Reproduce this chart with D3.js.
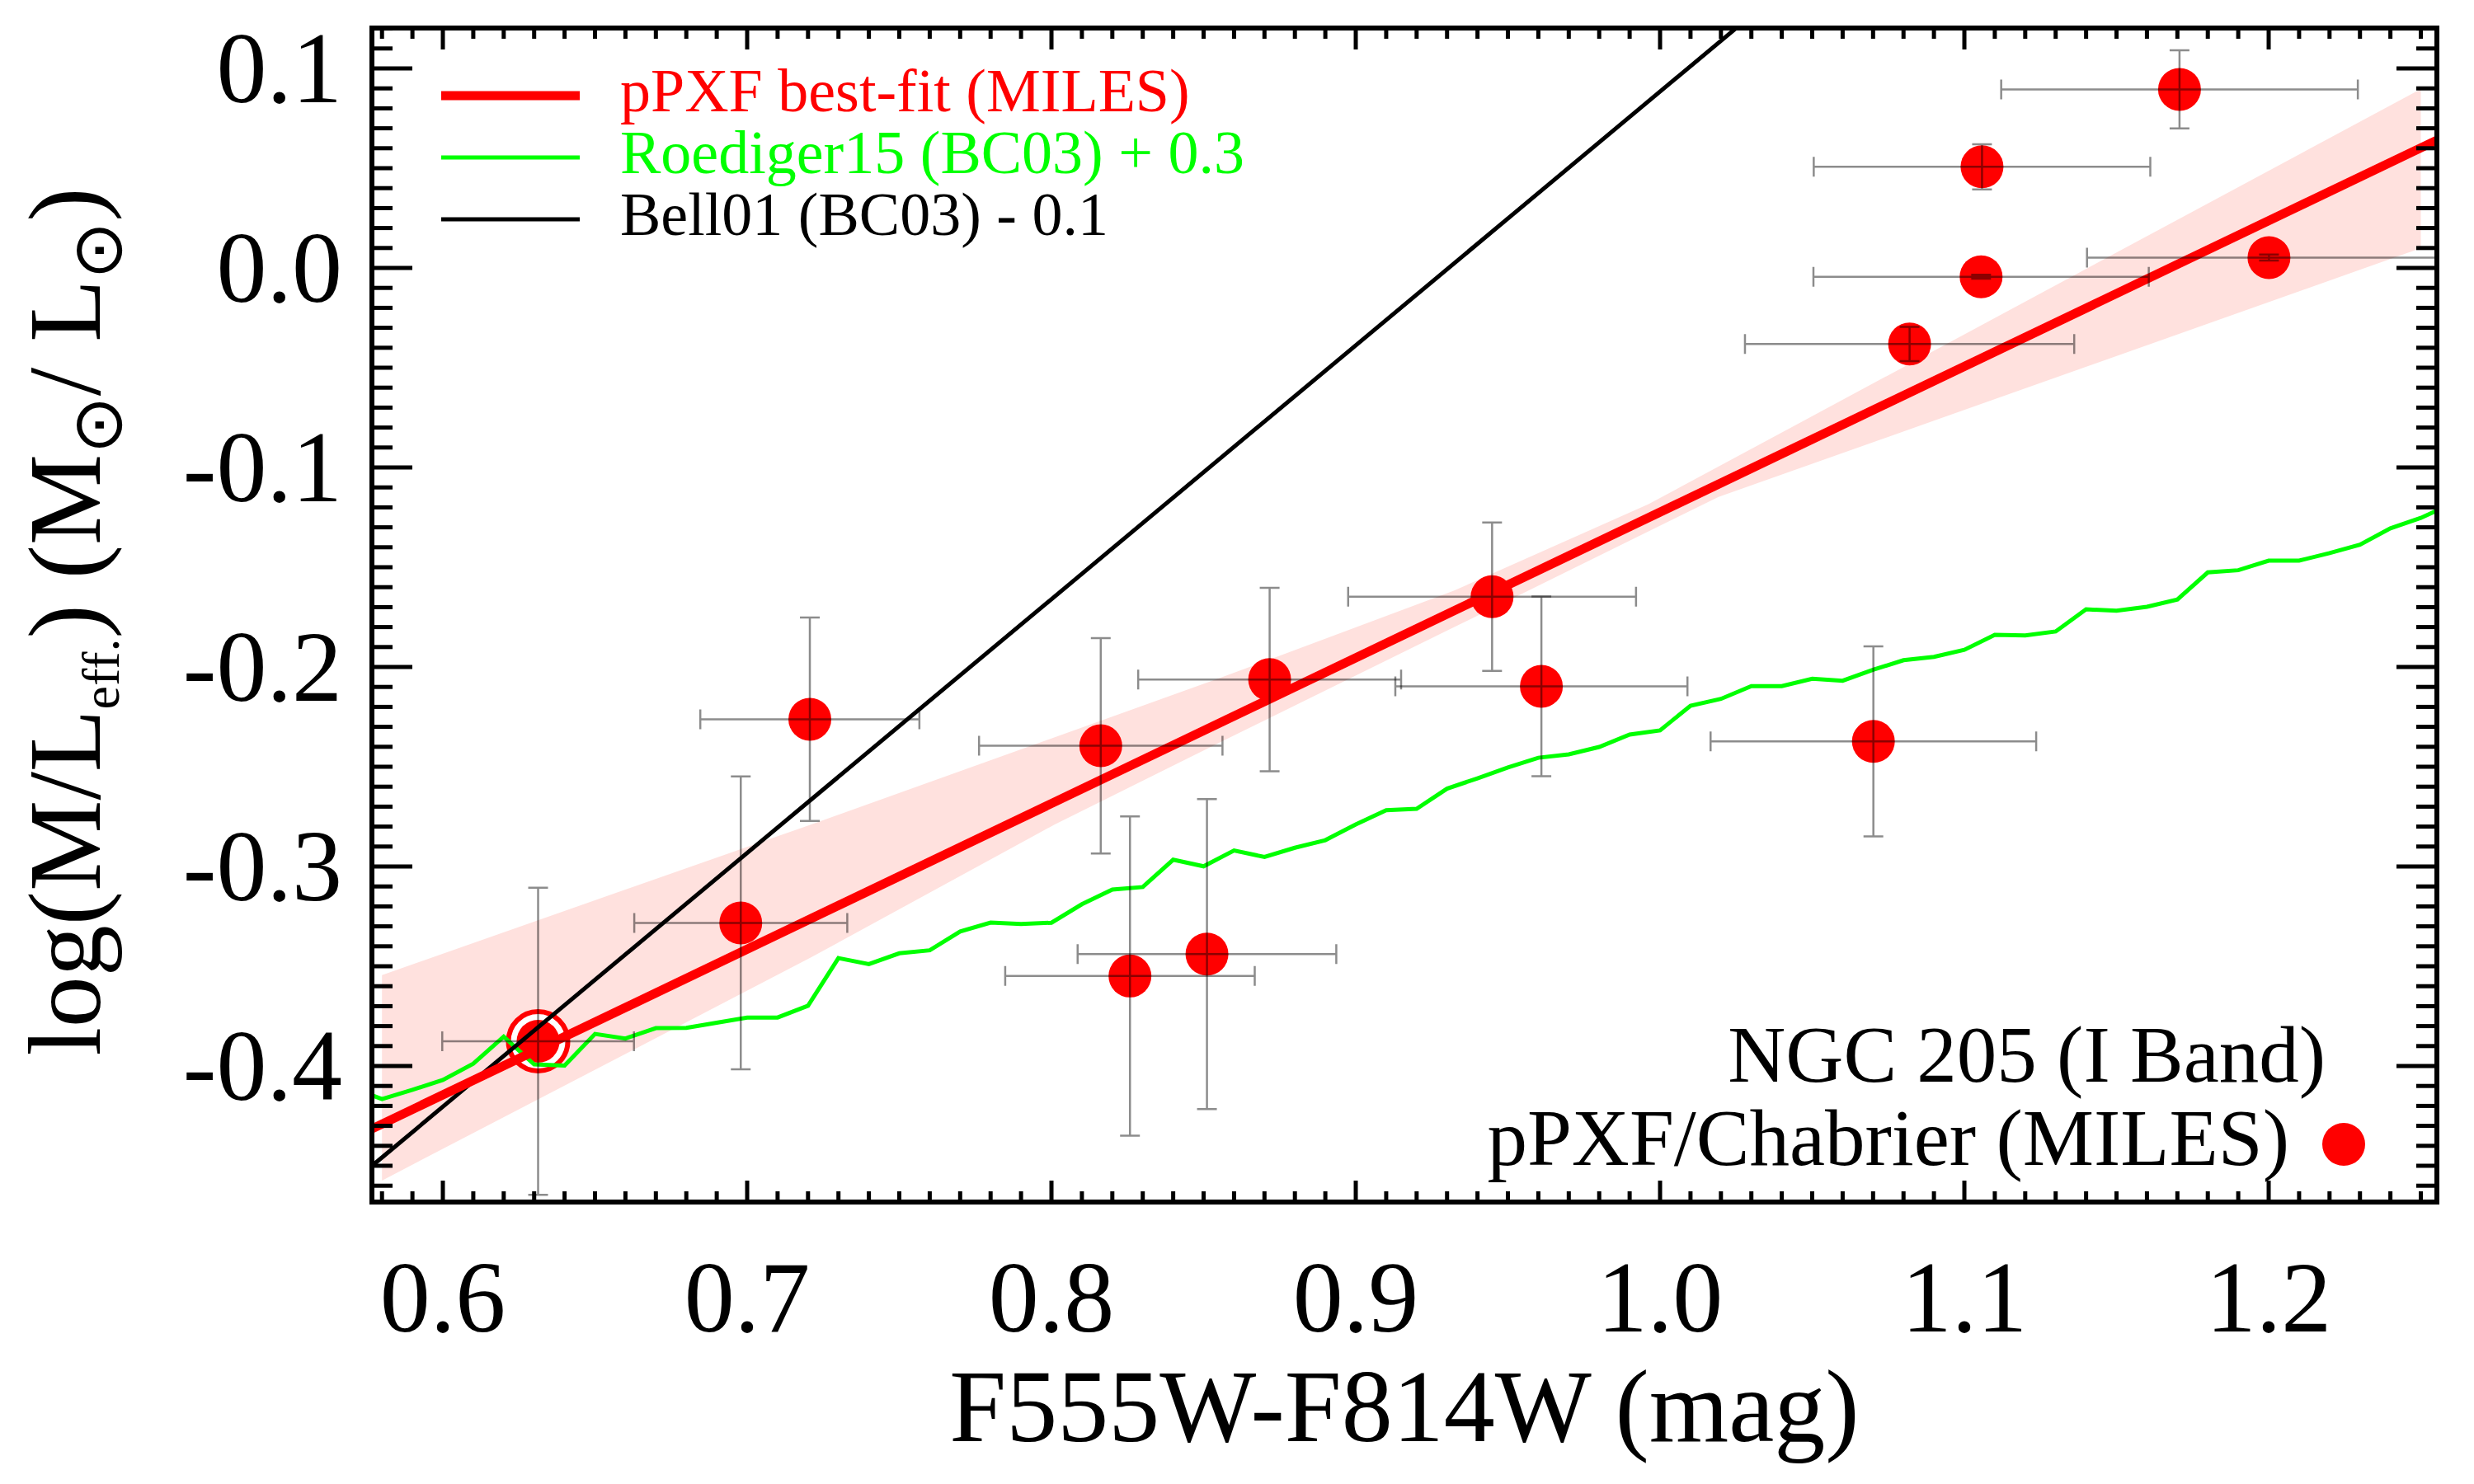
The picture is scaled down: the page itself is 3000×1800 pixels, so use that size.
<!DOCTYPE html>
<html>
<head>
<meta charset="utf-8">
<script src="https://cdn.jsdelivr.net/npm/d3@7"></script>
<style>
  body { margin: 0; background: #fff; }
  text { font-family: "Liberation Serif", "Times New Roman", serif; }
</style>
</head>
<body>
<svg id="chart" width="3000" height="1800"></svg>
<script>
// axis ticks
var xTicks = [0.6, 0.7, 0.8, 0.9, 1.0, 1.1, 1.2];
var xTickLabels = ["0.6", "0.7", "0.8", "0.9", "1.0", "1.1", "1.2"];
var yTicks = [-0.4, -0.3, -0.2, -0.1, 0.0, 0.1];
var yTickLabels = ["-0.4", "-0.3", "-0.2", "-0.1", "0.0", "0.1"];

// pPXF / Chabrier (MILES) measurements, first one is the circled reference point
var colour    = [0.6313, 0.6979, 0.7206, 0.8162, 0.8258, 0.8511, 0.8717, 0.9448, 0.9610, 1.0701, 1.0820, 1.1055, 1.1058, 1.1707, 1.2001];
var logML     = [-0.3876, -0.3283, -0.2262, -0.2395, -0.3549, -0.3439, -0.2063, -0.1648, -0.2097, -0.2373, -0.0381, -0.0044, 0.0507, 0.0895, 0.0052];
var colourErr = [0.0315, 0.035, 0.036, 0.040, 0.041, 0.0425, 0.0432, 0.0473, 0.048, 0.0535, 0.0541, 0.0551, 0.0553, 0.0586, 0.0598];
var logMLErr  = [0.077, 0.0734, 0.051, 0.054, 0.080, 0.0777, 0.046, 0.0372, 0.045, 0.0476, 0.0086, 0.0010, 0.0113, 0.0196, 0.0015];

// Roediger15 (BC03) + 0.3
var roedX = [0.57, 0.58, 0.59, 0.60, 0.61, 0.62, 0.63, 0.64, 0.65, 0.66, 0.67, 0.68, 0.69, 0.70,
             0.71, 0.72, 0.73, 0.74, 0.75, 0.76, 0.77, 0.78, 0.79, 0.80, 0.81, 0.82, 0.83, 0.84,
             0.85, 0.86, 0.87, 0.88, 0.89, 0.90, 0.91, 0.92, 0.93, 0.94, 0.95, 0.96, 0.97, 0.98,
             0.99, 1.00, 1.01, 1.02, 1.03, 1.04, 1.05, 1.06, 1.07, 1.08, 1.09, 1.10, 1.11, 1.12,
             1.13, 1.14, 1.15, 1.16, 1.17, 1.18, 1.19, 1.20, 1.21, 1.22, 1.23, 1.24, 1.25, 1.26];
var roedY = [-0.4107, -0.4166, -0.4119, -0.4070, -0.3988, -0.3853, -0.3992, -0.3998, -0.3839, -0.3862, -0.3810, -0.3809, -0.3783, -0.3757,
             -0.3757, -0.3698, -0.3459, -0.3489, -0.3435, -0.3420, -0.3326, -0.3281, -0.3288, -0.3282, -0.3189, -0.3116, -0.3103, -0.2966,
             -0.2999, -0.2920, -0.2952, -0.2906, -0.2868, -0.2789, -0.2718, -0.2711, -0.2610, -0.2558, -0.2504, -0.2455, -0.2438, -0.2401,
             -0.2339, -0.2318, -0.2194, -0.2160, -0.2096, -0.2096, -0.2059, -0.2069, -0.2014, -0.1966, -0.1949, -0.1914, -0.1839, -0.1842,
             -0.1822, -0.1711, -0.1718, -0.1698, -0.1662, -0.1526, -0.1515, -0.1467, -0.1467, -0.1429, -0.1387, -0.1305, -0.1253, -0.1182];

// pPXF best-fit line and its uncertainty band
var fitX = [0.55, 1.26];
var fitY = [-0.451, 0.0675];
var bandUpX = [0.58, 0.7211, 0.8556, 0.9322, 0.9962, 1.25];
var bandUpY = [-0.3544, -0.2789, -0.2054, -0.1618, -0.1184, 0.0897];
var bandLoX = [0.58, 0.7211, 0.8011, 0.8556, 1.0192, 1.25];
var bandLoY = [-0.4574, -0.3455, -0.2789, -0.2376, -0.1148, 0.0099];

// Bell01 (BC03) - 0.1
var bellX = [0.55, 1.05];
var bellY = [-0.484, 0.152];

var legendNames = ["pPXF best-fit (MILES)", "Roediger15 (BC03) + 0.3", "Bell01 (BC03) - 0.1"];
var legendColors = ["#ff0000", "#00ff00", "#000000"];
var legendWidths = [11, 5, 5];

var pL = 451, pR = 2955, pT = 34, pB = 1458;
var x = d3.scaleLinear().domain([0.57669, 1.25528]).range([pL, pR]);
var y = d3.scaleLinear().domain([-0.46818, 0.12025]).range([pB, pT]);

var svg = d3.select("#chart");
svg.append("rect").attr("width", 3000).attr("height", 1800).attr("fill", "#fff");

svg.append("clipPath").attr("id", "plotclip")
  .append("rect").attr("x", pL).attr("y", pT).attr("width", pR - pL).attr("height", pB - pT);

var plot = svg.append("g").attr("clip-path", "url(#plotclip)");

// band
var bandPts = bandUpX.map(function (d, i) { return [x(d), y(bandUpY[i])]; });
for (var i = bandLoX.length - 1; i >= 0; i--) bandPts.push([x(bandLoX[i]), y(bandLoY[i])]);
plot.append("path")
  .attr("d", "M" + bandPts.join("L") + "Z")
  .attr("fill", "#ffe1de");

// circled reference point (ring + dot)
plot.append("circle")
  .attr("cx", x(colour[0])).attr("cy", y(logML[0])).attr("r", 36)
  .attr("fill", "#fff").attr("stroke", "#ff0000").attr("stroke-width", 6);
plot.append("circle")
  .attr("cx", x(colour[0])).attr("cy", y(logML[0])).attr("r", 26)
  .attr("fill", "#ff0000");

var line = d3.line().x(function (d) { return x(d[0]); }).y(function (d) { return y(d[1]); });

plot.append("path")
  .attr("d", line(roedX.map(function (d, i) { return [d, roedY[i]]; })))
  .attr("fill", "none").attr("stroke", "#00ff00").attr("stroke-width", 5);

plot.append("path")
  .attr("d", line(bellX.map(function (d, i) { return [d, bellY[i]]; })))
  .attr("fill", "none").attr("stroke", "#000").attr("stroke-width", 5);

plot.append("path")
  .attr("d", line(fitX.map(function (d, i) { return [d, fitY[i]]; })))
  .attr("fill", "none").attr("stroke", "#ff0000").attr("stroke-width", 11);

// data points
var pts = colour.map(function (d, i) {
  return { x: d, y: logML[i], ex: colourErr[i], ey: logMLErr[i] };
});

plot.selectAll("circle.pt")
  .data(pts.slice(1))
  .enter().append("circle")
  .attr("class", "pt")
  .attr("cx", function (d) { return x(d.x); })
  .attr("cy", function (d) { return y(d.y); })
  .attr("r", 26)
  .attr("fill", "#ff0000");

// error bars
var cap = 12;
var eb = plot.append("g").attr("stroke", "#000").attr("stroke-opacity", 0.45).attr("stroke-width", 2.5).attr("fill", "none");
pts.forEach(function (d) {
  var cx = x(d.x), cy = y(d.y);
  var x0 = x(d.x - d.ex), x1 = x(d.x + d.ex);
  var y0 = y(d.y - d.ey), y1 = y(d.y + d.ey);
  eb.append("path").attr("d",
    "M" + x0 + "," + cy + "H" + x1 +
    "M" + x0 + "," + (cy - cap) + "V" + (cy + cap) +
    "M" + x1 + "," + (cy - cap) + "V" + (cy + cap) +
    "M" + cx + "," + y1 + "V" + y0 +
    "M" + (cx - cap) + "," + y1 + "H" + (cx + cap) +
    "M" + (cx - cap) + "," + y0 + "H" + (cx + cap));
});

// frame and ticks
var axes = svg.append("g").attr("stroke", "#000");
axes.append("rect")
  .attr("x", pL).attr("y", pT).attr("width", pR - pL).attr("height", pB - pT)
  .attr("fill", "none").attr("stroke-width", 6);

var xMinor = d3.range(58, 126).map(function (v) { return v / 100; });
var yMinor = d3.range(-46, 13).map(function (v) { return v / 100; });

function isMajor(v, list) {
  return list.some(function (t) { return Math.abs(t - v) < 1e-6; });
}

xMinor.forEach(function (v) {
  var len = isMajor(v, xTicks) ? 26 : 13;
  var px = x(v);
  axes.append("line").attr("x1", px).attr("x2", px).attr("y1", pB).attr("y2", pB - len).attr("stroke-width", 5);
  axes.append("line").attr("x1", px).attr("x2", px).attr("y1", pT).attr("y2", pT + len).attr("stroke-width", 5);
});
yMinor.forEach(function (v) {
  var len = isMajor(v, yTicks) ? 49 : 25;
  var py = y(v);
  axes.append("line").attr("y1", py).attr("y2", py).attr("x1", pL).attr("x2", pL + len).attr("stroke-width", 5);
  axes.append("line").attr("y1", py).attr("y2", py).attr("x1", pR).attr("x2", pR - len).attr("stroke-width", 5);
});

// tick labels
svg.selectAll("text.xt")
  .data(xTicks)
  .enter().append("text")
  .attr("class", "xt")
  .attr("x", function (d) { return x(d); })
  .attr("y", 1615)
  .attr("text-anchor", "middle")
  .attr("font-size", 122)
  .text(function (d, i) { return xTickLabels[i]; });

svg.selectAll("text.yt")
  .data(yTicks)
  .enter().append("text")
  .attr("class", "yt")
  .attr("x", 415)
  .attr("y", function (d) { return y(d) + 41; })
  .attr("text-anchor", "end")
  .attr("font-size", 122)
  .text(function (d, i) { return yTickLabels[i]; });

// axis titles
svg.append("text")
  .attr("x", (pL + pR) / 2).attr("y", 1748)
  .attr("text-anchor", "middle").attr("font-size", 124)
  .text("F555W-F814W (mag)");

var yt = svg.append("text")
  .attr("transform", "translate(121,754) rotate(-90)")
  .attr("text-anchor", "middle").attr("font-size", 124);
yt.append("tspan").text("log(M/L");
yt.append("tspan").attr("font-size", 64).attr("dy", 23).text("eff.");
yt.append("tspan").attr("dy", -23).text(") (M");
yt.append("tspan").attr("font-family", "DejaVu Sans").attr("font-size", 84).attr("dy", 26).text("\u2299");
yt.append("tspan").attr("dy", -26).text("/ L");
yt.append("tspan").attr("font-family", "DejaVu Sans").attr("font-size", 84).attr("dy", 26).text("\u2299");
yt.append("tspan").attr("dy", -26).text(")");

// legend
legendNames.forEach(function (name, i) {
  var ly = 116 + i * 75;
  svg.append("line").attr("x1", 535).attr("x2", 703).attr("y1", ly).attr("y2", ly)
    .attr("stroke", legendColors[i]).attr("stroke-width", legendWidths[i]);
  svg.append("text").attr("x", 752).attr("y", ly + 19)
    .attr("font-size", 74).attr("fill", legendColors[i]).text(name);
});

// sample label
svg.append("text").attr("x", 2820).attr("y", 1312).attr("text-anchor", "end")
  .attr("font-size", 97).text("NGC 205 (I Band)");
svg.append("text").attr("x", 2776).attr("y", 1413).attr("text-anchor", "end")
  .attr("font-size", 97).text("pPXF/Chabrier (MILES)");
svg.append("circle").attr("cx", 2842).attr("cy", 1388).attr("r", 26).attr("fill", "#ff0000");
</script>
</body>
</html>
